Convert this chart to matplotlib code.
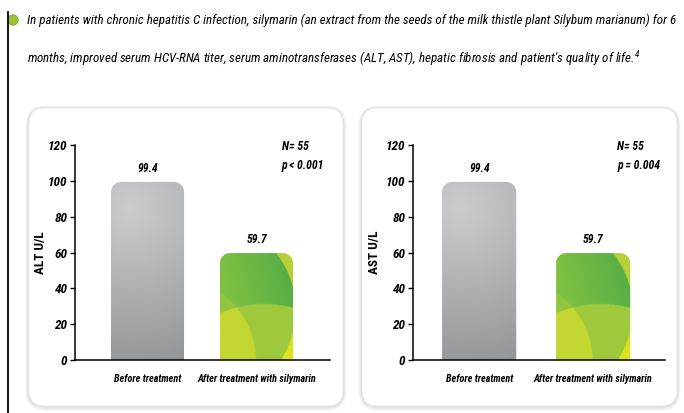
import numpy as np
import matplotlib.pyplot as plt
from matplotlib import font_manager
from matplotlib.path import Path
from matplotlib.patches import PathPatch, FancyBboxPatch, Circle
from matplotlib.colors import to_rgb

# prefer a narrow face, else the condensed cut of DejaVu
available = {f.name for f in font_manager.fontManager.ttflist}
narrow = [n for n in ["Liberation Sans Narrow", "Roboto Condensed", "Open Sans Condensed",
                      "Arial Narrow"] if n in available]
plt.rcParams['font.family'] = narrow + ['DejaVu Sans']
plt.rcParams['font.stretch'] = 'condensed'
plt.rcParams['mathtext.default'] = 'regular'

# chart data
groups = ["Before treatment", "After treatment with silymarin"]
alt_values = [99.4, 59.7]
ast_values = [99.4, 59.7]
y_labels = ["ALT U/L", "AST U/L"]
n_labels = ["N= 55", "N= 55"]
p_labels = ["p < 0.001", "p = 0.004"]
y_ticks = [0, 20, 40, 60, 80, 100, 120]

header = [
    "In patients with chronic hepatitis C infection, silymarin (an extract from the seeds of the milk thistle plant Silybum marianum) for 6",
    "months, improved serum HCV-RNA titer, serum aminotransferases (ALT, AST), hepatic fibrosis and patient's quality of life.$^{4}$",
]

W, H = 684, 413
fig = plt.figure(figsize=(W / 100, H / 100), dpi=100)
renderer = fig.canvas.get_renderer()


def fit_width(txt, target_px):
    bb = txt.get_window_extent(renderer)
    txt.set_fontsize(txt.get_fontsize() * target_px / bb.width)


# background layer in pixel units: frame line, header, rounded panels
bg = fig.add_axes([0, 0, 1, 1], zorder=0)
bg.set_xlim(0, W)
bg.set_ylim(H, 0)
bg.axis("off")

bg.plot([7.5, 7.5], [12, H], color="black", lw=1.3)
bg.add_patch(Circle((13, 20), 5.2, color="#9dc23a", ec="#7fa630", lw=0.6))
line1 = bg.text(27, 20, header[0], fontsize=10, style="italic", va="center", ha="left")
line2 = bg.text(27, 59, header[1], fontsize=10, style="italic", va="center", ha="left")
fit_width(line1, 648)
line2.set_fontsize(line1.get_fontsize())

panel_boxes = [(29, 108, 314, 298), (362, 108, 315, 298)]
for (x, y, w, h) in panel_boxes:
    for k in range(6, 0, -1):
        bg.add_patch(FancyBboxPatch((x - k * 0.6, y - k * 0.4), w + k * 1.2, h + k * 1.2,
                                    boxstyle="round,pad=0,rounding_size=%g" % (16 + k * 0.6),
                                    fc="#000000", ec="none", alpha=0.022))
    bg.add_patch(FancyBboxPatch((x, y), w, h, boxstyle="round,pad=0,rounding_size=16",
                                fc="white", ec="#ececec", lw=0.6))


def rounded_top(x0, x1, top, rx, ry):
    k = 0.5523
    verts = [(x0, 0), (x0, top - ry),
             (x0, top - ry + k * ry), (x0 + rx - k * rx, top), (x0 + rx, top),
             (x1 - rx, top),
             (x1 - rx + k * rx, top), (x1, top - ry + k * ry), (x1, top - ry),
             (x1, 0), (x0, 0)]
    codes = [Path.MOVETO, Path.LINETO,
             Path.CURVE4, Path.CURVE4, Path.CURVE4,
             Path.LINETO,
             Path.CURVE4, Path.CURVE4, Path.CURVE4,
             Path.LINETO, Path.CLOSEPOLY]
    return Path(verts, codes)


def bar_grid(h_px, w_px=73, n=220):
    py, px = np.mgrid[0:n, 0:int(n * w_px / h_px) + 2]
    return px / px.max() * w_px, py / (n - 1) * h_px


def gray_fill(h_px, w_px=73):
    px, py = bar_grid(h_px, w_px)
    d = np.hypot(px - 0.25 * w_px, py - 0.85 * h_px) / (1.0 * h_px)
    t = np.clip(d, 0, 1)[..., None]
    light = np.array(to_rgb("#cbccce"))
    dark = np.array(to_rgb("#8e8f93"))
    return light * (1 - t) + dark * t


def green_fill(h_px, w_px=73):
    px, py = bar_grid(h_px, w_px)
    sy = h_px / 107.0
    t = np.clip(0.8 * px / w_px + 0.35 * py / h_px - 0.2, 0, 1)[..., None]
    img = np.array(to_rgb("#84c342")) * (1 - t) + np.array(to_rgb("#4eaa46")) * t
    arc = (px + 19) ** 2 + (py - 50 * sy) ** 2 < (94 * sy) ** 2
    low = (px - 44) ** 2 + (py + 56 * sy) ** 2 < (112 * sy) ** 2
    left = (px + 45) ** 2 + (py / sy) ** 2 < 80.5 ** 2
    img[left & ~low] = to_rgb("#92c53e")
    img[low & arc] = to_rgb("#9fc93c")
    img[low & left] = to_rgb("#c3d631")
    img[~arc & ~low] = to_rgb("#b8d036")
    img[~arc & low] = to_rgb("#dde31e")
    return img


axes_px = [(75, 330), (413, 665)]
xlims = [(-0.665, 1.674), (-0.58, 1.63)]
widths = [0.67, 0.65]
label_x = [-0.11, -0.125]
y0_px, y1_px = 360, 145
tick_font = dict(fontsize=8.5, fontweight="bold", style="italic")

for i, values in enumerate([alt_values, ast_values]):
    xa, xb = axes_px[i]
    ax = fig.add_axes([xa / W, (H - y0_px) / H, (xb - xa) / W, (y0_px - y1_px) / H], zorder=2)
    ax.set_facecolor("none")
    lo, hi = xlims[i]
    px_per_unit = (xb - xa) / (hi - lo)
    px_per_val = (y0_px - y1_px) / 120.0
    bw = widths[i]

    for j, v in enumerate(values):
        x0, x1 = j - bw / 2, j + bw / 2
        path = rounded_top(x0, x1, v, 10 / px_per_unit, 10 / px_per_val)
        patch = PathPatch(path, fc="none", ec="none")
        ax.add_patch(patch)
        h_px = v * px_per_val
        img = gray_fill(h_px) if j == 0 else green_fill(h_px)
        im = ax.imshow(img, extent=(x0, x1, 0, v), origin="lower",
                       aspect="auto", interpolation="bilinear", zorder=1)
        im.set_clip_path(patch)
        ax.annotate(f"{v:.1f}", xy=(j, v), xytext=(0, 5), textcoords="offset points",
                    ha="center", va="bottom", **tick_font)

    ax.set_xlim(lo, hi)
    ax.set_ylim(0, 120)
    ax.set_yticks(y_ticks)
    ax.set_xticks([0, 1])
    xlabels = ax.set_xticklabels(groups, **tick_font)
    fit_width(xlabels[1], 118)
    xlabels[0].set_fontsize(xlabels[1].get_fontsize())
    for lab in ax.get_yticklabels():
        lab.set(fontsize=9.5, fontweight="bold", style="italic")
    ax.tick_params(axis="x", length=0, pad=10)
    ax.tick_params(axis="y", length=3.5, width=1, pad=2)
    ax.spines[["top", "right"]].set_visible(False)
    ax.spines[["left", "bottom"]].set_linewidth(1.1)
    ax.set_ylabel(y_labels[i], fontsize=9.5, fontweight="bold")
    ax.yaxis.set_label_coords(label_x[i], 0.5)

    ax.text(0.81, 0.995, n_labels[i], transform=ax.transAxes, ha="left", va="center", **tick_font)
    ax.text(0.81, 0.905, p_labels[i], transform=ax.transAxes, ha="left", va="center", **tick_font)

fig.savefig("out.png", dpi=100)
